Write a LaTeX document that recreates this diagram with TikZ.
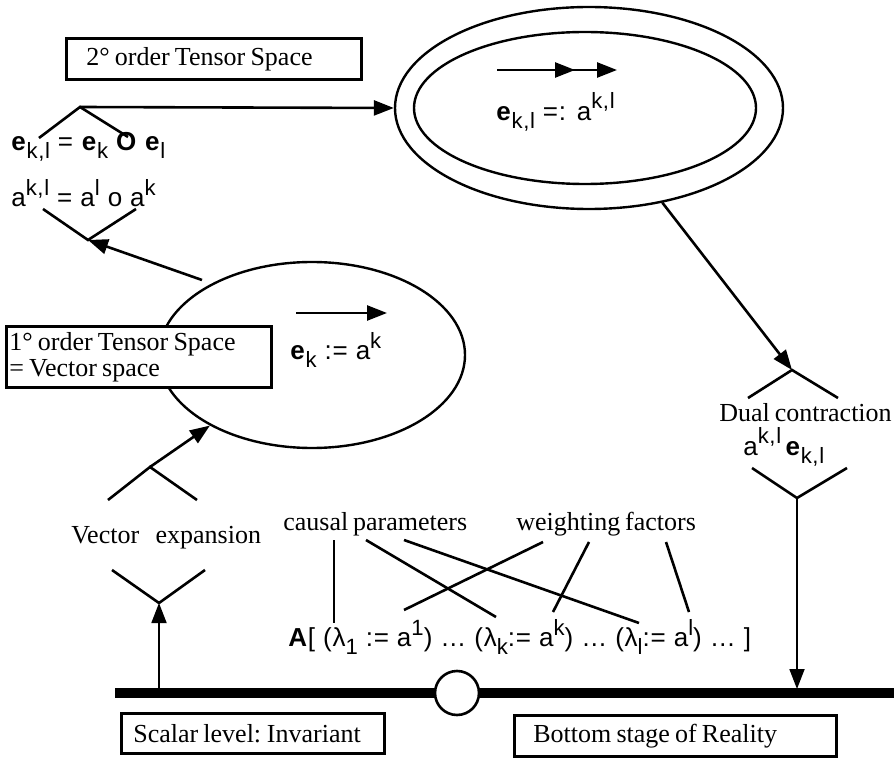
\documentclass[tikz,border=0pt]{standalone}
\usepackage{fontspec}
\usepackage{graphicx}
\setmainfont[WordSpace=0.75]{Liberation Serif}
\newfontfamily\hv[LetterSpace=3]{Liberation Sans}
\usetikzlibrary{arrows.meta,shapes.geometric}
\newcommand\lowr[1]{\raisebox{-0.3em}{\scalebox{0.85}{#1}}}
\newcommand\highr[1]{\raisebox{0.45em}{\scalebox{0.85}{#1}}}
\newcommand\tightsp{\spaceskip=0.2em\xspaceskip=0.22em\relax}
\begin{document}
\begin{tikzpicture}[x=1pt,y=-1pt,line width=2.6pt,
  lbl/.style={font=\fontsize{26}{27}\selectfont, inner sep=0pt},
  frm/.style={draw, fill=white, line width=2.6pt, font=\fontsize{26}{26}\selectfont, align=left, inner ysep=0pt},
  fml/.style={font=\hv\fontsize{26}{28}\selectfont, inner sep=0pt},
  arr/.style={-{Triangle[length=20pt,width=15pt]}},
  ell/.style={draw, ellipse, inner sep=0pt, line width=2.4pt},
  ]
\useasboundingbox (0,0) rectangle (894,759);

% ellipses
\node[ell, minimum width=388, minimum height=202] (outer) at (589,108) {};
\node[ell, minimum width=342, minimum height=152] (inner) at (585,108) {};
\node[ell, minimum width=306, minimum height=186] (ell1) at (312,355) {};

% boxes
\node[frm, anchor=north west, inner xsep=20pt, text width=255pt, minimum height=41pt] (box2) at (65,37) {\tightsp 2° order Tensor Space};
\node[frm, anchor=north west, inner xsep=3pt, text width=259pt, minimum height=61pt] (box1) at (5,325) {\tightsp 1° order Tensor Space\\= Vector space};
\node[frm, anchor=north west, inner xsep=12pt, text width=239pt, minimum height=40pt] (box3) at (120,712) {\tightsp Scalar level: Invariant};
\node[frm, anchor=north west, inner xsep=19pt, text width=284pt, minimum height=41pt] (box4) at (513,714) {\tightsp Bottom stage of Reality};

% formula texts
\node[fml, anchor=west] (eqa) at (10,147) {\textbf{e}\lowr{k,l} = \textbf{e}\lowr{k} \textbf{O} \textbf{e}\lowr{l}};
\node[fml, anchor=west] (eqb) at (10,193) {a\highr{k,l} = a\highr{l} o a\highr{k}};
\node[fml, anchor=west] (ekl) at (495,112) {\textbf{e}\lowr{k,l} =: a\highr{k,l}};
\node[fml, anchor=west] (ek) at (289,350) {\textbf{e}\lowr{k} := a\highr{k}};
\node[fml, anchor=west] (ae) at (742,447) {a\highr{k,l}\,\textbf{e}\lowr{k,l}};
\node[fml, anchor=west] (form) at (287,637) {\textbf{A}[ (λ\lowr{1} := a\highr{1}) … (λ\lowr{k}:= a\highr{k}) … (λ\lowr{l}:= a\highr{l}) … ]};

% serif labels
\node[lbl, anchor=east] (dual) at (893,413) {Dual contraction};
\node[lbl, anchor=west] (vexp) at (70,538) {Vector\;\, expansion};
\node[lbl, anchor=west] (caus) at (282,524) {causal parameters};
\node[lbl, anchor=west] (weigh) at (515,524) {weighting factors};

% roof / V coordinates
\coordinate (r1l) at (39,138); \coordinate (r1a) at (80,107); \coordinate (r1r) at (128,137);
\coordinate (v1l) at (43,209); \coordinate (v1a) at (88,240); \coordinate (v1r) at (136,209);
\coordinate (t1) at (202,280);
\coordinate (r2l) at (108,500); \coordinate (r2a) at (150,467); \coordinate (r2r) at (197,500);
\coordinate (v2l) at (112,570); \coordinate (v2a) at (159,603); \coordinate (v2r) at (205,570);
\coordinate (r3l) at (748,398); \coordinate (r3a) at (792,370); \coordinate (r3r) at (838,398);
\coordinate (v3l) at (752,468); \coordinate (v3a) at (797,498); \coordinate (v3r) at (847,468);

% roofs and Vs
\draw (r1l) -- (r1a) -- (r1r);
\draw (v1l) -- (v1a) -- (v1r);
\draw (r2l) -- (r2a) -- (r2r);
\draw (v2l) -- (v2a) -- (v2r);
\draw (r3l) -- (r3a) -- (r3r);
\draw (v3l) -- (v3a) -- (v3r);

% arrows
\draw[arr] (r1a) -- (outer.west);
\draw[arr] (t1) -- (v1a);
\draw[arr] (r2a) -- (ell1);
\draw[arr] (outer) -- (r3a);

% inner arrows
\coordinate (da) at (497,70); \coordinate (db) at (575,70); \coordinate (dc) at (617,70);
\draw[arr] (da) -- (db);
\draw[arr] (da) -- (dc);
\coordinate (sa) at (296,313); \coordinate (sb) at (387,313);
\draw[arr] (sa) -- (sb);

% bar
\coordinate (barL) at (115,693); \coordinate (barR) at (894,693);
\draw[line width=10pt] (barL) -- (barR);
\node[draw, circle, fill=white, line width=2.6pt, minimum size=44pt, inner sep=0pt] (mid) at (457,693) {};
\coordinate (b1) at (159,689); \coordinate (b2) at (797,689);
\draw[arr, line width=1.8pt] (b1) -- (v2a);
\draw[arr, line width=1.8pt] (v3a) -- (b2);

% parameter links
\coordinate (c1) at (334,540); \coordinate (c1b) at (334,623);
\coordinate (c2) at (366,540); \coordinate (c2b) at (496,617);
\coordinate (c3) at (404,540); \coordinate (c3b) at (639,623);
\coordinate (w1) at (543,542); \coordinate (w1b) at (404,610);
\coordinate (w2) at (589,542); \coordinate (w2b) at (553,612);
\coordinate (w3) at (666,542); \coordinate (w3b) at (689,612);
\draw[line width=1.4pt] (c1) -- (c1b);
\draw (c2) -- (c2b);
\draw (c3) -- (c3b);
\draw (w1) -- (w1b);
\draw (w2) -- (w2b);
\draw (w3) -- (w3b);
\end{tikzpicture}
\end{document}
